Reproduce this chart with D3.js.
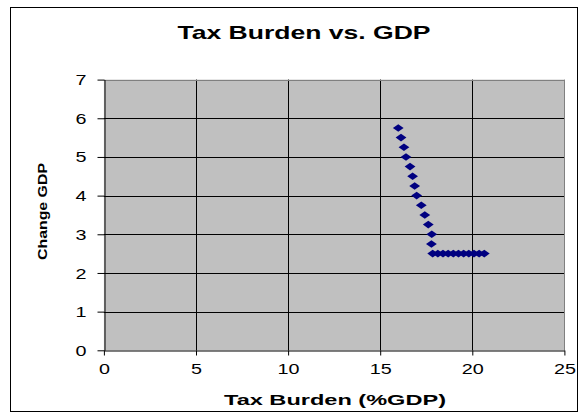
<!DOCTYPE html>
<html><head><meta charset="utf-8">
<script src="https://cdn.jsdelivr.net/npm/d3@7"></script>
<style>body{margin:0;background:#fff}svg{display:block}</style>
</head><body>
<script>
const taxBurden = [15.98,16.13,16.29,16.40,16.62,16.76,16.87,16.98,17.23,17.42,17.61,17.80,17.78,
  17.85,18.13,18.41,18.69,18.97,19.25,19.53,19.81,20.09,20.37,20.65];
const changeGDP = [5.75,5.5,5.25,5.0,4.75,4.5,4.25,4.0,3.75,3.5,3.25,3.0,2.75,
  2.5,2.5,2.5,2.5,2.5,2.5,2.5,2.5,2.5,2.5,2.5];
const xTicks = [0,5,10,15,20,25];
const yTicks = [0,1,2,3,4,5,6,7];
const title = "Tax Burden vs. GDP";
const xTitle = "Tax Burden (%GDP)";
const yTitle = "Change GDP";

const FONT="Arial, 'Liberation Sans', sans-serif";
const W=586,H=418;
const svg=d3.select("body").append("svg").attr("width",W).attr("height",H);
svg.append("rect").attr("x",10.5).attr("y",7.5).attr("width",567).attr("height",404)
  .attr("fill","#fff").attr("stroke","#000").attr("stroke-width",1);

const x=d3.scaleLinear().domain([0,25]).range([103.9,564.4]);
const y=d3.scaleLinear().domain([0,7]).range([350.3,79.6]);

svg.append("rect").attr("x",x(0)).attr("y",y(7)).attr("width",x(25)-x(0)).attr("height",y(0)-y(7))
  .attr("fill","#c0c0c0");

const g=svg.append("g");
g.selectAll("line.vg").data(xTicks.filter(d=>d>0&&d<25)).join("line")
  .attr("x1",d=>Math.round(x(d))+0.5).attr("x2",d=>Math.round(x(d))+0.5)
  .attr("y1",y(7)).attr("y2",y(0)).attr("stroke","#000");
g.selectAll("line.hg").data(yTicks.filter(d=>d>0&&d<7)).join("line")
  .attr("y1",d=>Math.round(y(d))+0.5).attr("y2",d=>Math.round(y(d))+0.5)
  .attr("x1",x(0)).attr("x2",x(25)).attr("stroke","#000");
svg.append("line").attr("x1",x(0)).attr("x2",x(25)).attr("y1",Math.round(y(7))+0.5).attr("y2",Math.round(y(7))+0.5).attr("stroke","#808080");
svg.append("line").attr("x1",Math.round(x(25))+0.5).attr("x2",Math.round(x(25))+0.5).attr("y1",y(7)).attr("y2",y(0)).attr("stroke","#808080");

const xAxis=d3.axisBottom(x).tickValues(xTicks).tickFormat(d3.format("d")).tickSize(5).tickPadding(9).tickSizeOuter(0);
const yAxis=d3.axisLeft(y).tickValues(yTicks).tickFormat(d3.format("d")).tickSize(7).tickPadding(11).tickSizeOuter(0);
const gx=svg.append("g").attr("transform",`translate(0,${Math.round(y(0))+0.5})`).call(xAxis);
const gy=svg.append("g").attr("transform",`translate(${Math.round(x(0))+0.5},0)`).call(yAxis);
[gx,gy].forEach(a=>{
  a.selectAll("text").attr("font-family",FONT).attr("font-size",14).attr("fill","#000")
    .attr("textLength",d=>String(d).length*11).attr("lengthAdjust","spacingAndGlyphs");
  a.select(".domain").attr("stroke","#000");
  a.selectAll(".tick line").attr("stroke","#000");
});
gy.selectAll("text").attr("dy","0.36em");

const diamond="M0,-3.8L5.4,0L0,3.8L-5.4,0Z";
svg.append("g").selectAll("path").data(taxBurden.map((t,i)=>[t,changeGDP[i]])).join("path")
  .attr("d",diamond).attr("transform",d=>`translate(${x(d[0])},${y(d[1])})`)
  .attr("fill","#000080");

svg.append("text").attr("x",304).attr("y",39).attr("text-anchor","middle")
  .attr("font-family",FONT).attr("font-weight","bold").attr("font-size",19)
  .attr("textLength",253).attr("lengthAdjust","spacingAndGlyphs").text(title);
svg.append("text").attr("x",335).attr("y",405).attr("text-anchor","middle")
  .attr("font-family",FONT).attr("font-weight","bold").attr("font-size",15)
  .attr("textLength",222).attr("lengthAdjust","spacingAndGlyphs").text(xTitle);
svg.append("text").attr("transform","translate(47,211.5) rotate(-90)").attr("text-anchor","middle")
  .attr("font-family",FONT).attr("font-weight","bold").attr("font-size",13)
  .attr("textLength",97).attr("lengthAdjust","spacingAndGlyphs").text(yTitle);
</script>
</body></html>
